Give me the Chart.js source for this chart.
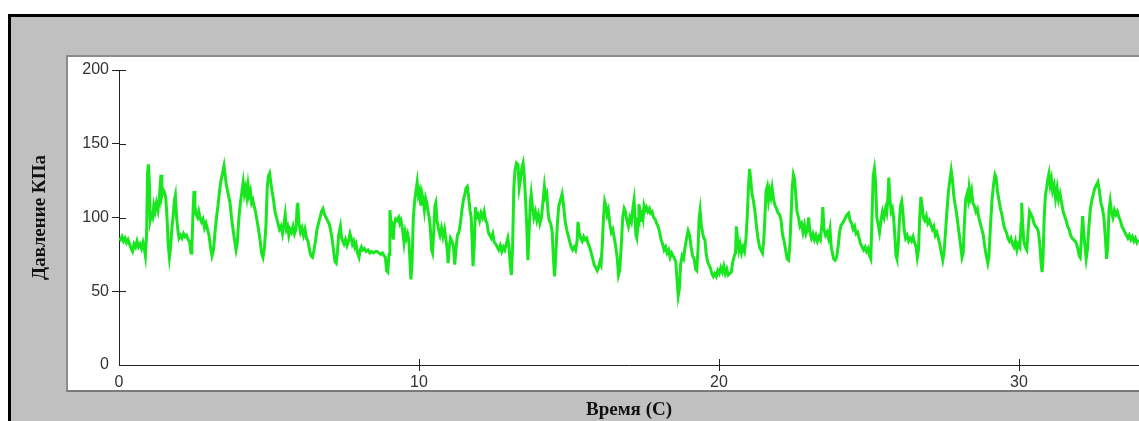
<!DOCTYPE html>
<html>
<head>
<meta charset="utf-8">
<script src="https://cdn.jsdelivr.net/npm/chart.js@4.4.1/dist/chart.umd.min.js"></script>
<style>
  html, body { margin: 0; padding: 0; background: #ffffff; width: 1139px; height: 421px; overflow: hidden; }
  #frame { position: absolute; left: 8px; top: 14px; width: 1131px; height: 407px; box-sizing: border-box;
           border-left: 3px solid #000; border-top: 3px solid #000; background: #c0c0c0; }
  #panel { position: absolute; left: 66px; top: 55px; width: 1073px; height: 337px; box-sizing: border-box;
           background: #ffffff; border-left: 2px solid #8c8c8c; border-top: 2px solid #8c8c8c; border-bottom: 2px solid #7a7a7a; }
  #chart { position: absolute; left: 0; top: 0; }
</style>
</head>
<body>
<div id="frame"></div>
<div id="panel"></div>
<canvas id="chart" width="1139" height="421"></canvas>
<script>
// ---- data (time in s, pressure in kPa) ----
const seg1T = [0.00,0.05,0.10,0.15,0.20,0.25,0.30,0.35,0.40,0.45,
0.50,0.55,0.60,0.65,0.70,0.75,0.80,0.85,0.88,0.92,
0.95,0.98,1.01,1.04,1.08,1.12,1.16,1.20,1.25,1.30,
1.34,1.38,1.40,1.43,1.47,1.52,1.56,1.60,1.64,1.68,
1.72,1.76,1.80,1.85,1.88,1.92,1.96,2.00,2.05,2.10,
2.15,2.20,2.25,2.30,2.35,2.40,2.43,2.47,2.50,2.53,
2.57,2.62,2.66,2.70,2.75,2.80,2.85,2.90,2.95,3.00,
3.05,3.10,3.15,3.20,3.25,3.30,3.35,3.40,3.45,3.50,
3.54,3.58,3.62,3.66,3.70,3.75,3.80,3.85,3.90,3.94,
3.98,4.02,4.06,4.10,4.14,4.18,4.22,4.26,4.30,4.34,
4.38,4.42,4.46,4.50,4.55,4.60,4.65,4.70,4.75,4.80,
4.85,4.90,4.94,4.98,5.02,5.06,5.10,5.15,5.20,5.25,
5.30,5.35,5.40,5.45,5.50,5.54,5.58,5.62,5.66,5.70,
5.75,5.80,5.85,5.90,5.94,5.96,6.00,6.05,6.10,6.15,
6.20,6.25,6.30,6.35,6.40,6.45,6.50,6.55,6.60,6.65,
6.70,6.75,6.80,6.85,6.90,6.95,7.00,7.05,7.10,7.15,
7.20,7.24,7.28,7.32,7.38,7.42,7.46,7.50,7.55,7.60,
7.65,7.70,7.74,7.78,7.82,7.86,7.90,7.95,8.00,8.04,
8.08,8.12,8.18,8.24,8.30,8.36,8.42,8.48,8.55];
const seg1P = [86,85,87,84,86,83,85,82,79,77,
82,80,84,80,82,79,83,78,74,88,
130,136,125,98,102,100,108,104,110,105,
112,124,129,115,119,117,113,100,82,73,
80,92,100,112,115,100,92,86,88,86,
89,87,88,85,84,76,80,105,118,108,
102,100,104,100,97,99,93,96,92,88,
80,74,78,90,100,108,118,125,130,135,
128,122,118,114,110,100,92,85,78,82,
95,105,112,118,124,116,120,114,122,115,
118,110,112,108,104,98,92,85,76,73,
80,95,120,128,130,124,118,112,104,100,
96,92,94,89,96,102,92,94,88,92,
90,94,89,92,108,110,96,90,93,88,
92,86,84,78,74,73,78,84,92,96,
100,104,106,102,100,98,96,92,86,78,
70,69,76,88,94,86,84,82,85,81,
84,89,86,82,84,80,82,76,73,78,
80,78,79,77,78,76,77,76,77];

const seg2T = [8.60,8.66,8.72,8.78,8.84,8.88,8.92,8.96,9.00,9.03,
9.06,9.10,9.14,9.18,9.22,9.27,9.32,9.36,9.40,9.45,
9.50,9.54,9.58,9.62,9.66,9.70,9.73,9.77,9.81,9.86,
9.90,9.94,9.98,10.02,10.06,10.10,10.14,10.18,10.22,10.26,
10.30,10.34,10.38,10.42,10.45,10.49,10.53,10.56,10.60,10.65,
10.70,10.75,10.80,10.85,10.90,10.94,10.97,11.01,11.05,11.10,
11.15,11.19,11.23,11.28,11.33,11.38,11.43,11.48,11.53,11.57,
11.61,11.65,11.70,11.74,11.77,11.80,11.84,11.88,11.92,11.97,
12.02,12.07,12.12,12.17,12.22,12.27,12.31,12.36,12.41,12.46,
12.51,12.56,12.61,12.66,12.71,12.76,12.81,12.86,12.91,12.96,
13.00,13.04,13.08,13.12,13.16,13.20,13.25,13.30,13.34,13.38,
13.43,13.47,13.51,13.55,13.59,13.63,13.67,13.71,13.74,13.78,
13.83,13.88,13.93,13.98,14.03,14.08,14.13,14.18,14.22,14.26,
14.30,14.34,14.39,14.44,14.48,14.52,14.56,14.61,14.66,14.72,
14.77,14.82,14.87,14.92,14.97,15.02,15.07,15.12,15.17,15.22,
15.27,15.30,15.34,15.39,15.44,15.49,15.54,15.59,15.64,15.69,
15.74,15.79,15.84,15.89,15.94,15.98,16.03,16.07,16.11,16.15,
16.19,16.23,16.27,16.31,16.36,16.41,16.46,16.51,16.56,16.61,
16.65,16.69,16.74,16.79,16.84,16.88,16.93,16.98,17.03,17.08];
const seg2P = [77,76,75,76,74,73,64,63,75,105,
98,96,85,96,99,98,100,96,98,92,
83,90,86,89,85,70,58,70,100,112,
118,124,115,118,108,116,112,105,113,110,
104,100,92,78,76,90,108,110,98,92,
88,93,87,92,85,78,69,80,86,84,
80,68,78,88,90,96,105,112,116,120,
121,115,105,100,85,67,80,107,100,102,
98,103,100,104,98,96,90,88,86,89,
83,82,80,78,81,77,80,78,82,86,
80,68,61,80,120,132,137,136,120,125,
134,137,128,113,95,71,90,110,116,108,
100,104,98,102,96,100,110,121,114,116,
104,98,96,90,72,60,75,95,108,112,
116,108,98,92,88,84,80,78,80,78,
84,97,90,86,84,87,85,86,82,80,
76,72,68,66,64,66,70,68,82,100,
111,108,102,105,96,90,92,86,80,72,
61,64,80,100,106,104,98,94,100,97];

const seg3T = [17.14,17.17,17.20,17.23,17.26,17.30,17.33,17.37,17.40,17.43,
17.47,17.50,17.54,17.58,17.63,17.68,17.72,17.77,17.82,17.87,
17.92,17.97,18.02,18.07,18.12,18.17,18.22,18.27,18.32,18.37,
18.42,18.47,18.52,18.56,18.60,18.64,18.68,18.72,18.77,18.82,
18.87,18.92,18.97,19.02,19.07,19.12,19.17,19.22,19.26,19.30,
19.34,19.37,19.41,19.45,19.49,19.53,19.57,19.62,19.66,19.71,
19.76,19.81,19.86,19.91,19.96,20.01,20.06,20.11,20.16,20.21,
20.26,20.31,20.36,20.41,20.46,20.51,20.55,20.58,20.62,20.66,
20.70,20.75,20.80,20.85,20.90,20.94,20.98,21.02,21.06,21.10,
21.14,21.18,21.22,21.26,21.30,21.35,21.40,21.45,21.49,21.53,
21.57,21.61,21.65,21.69,21.73,21.77,21.82,21.87,21.92,21.97,
22.02,22.07,22.12,22.17,22.22,22.27,22.32,22.36,22.40,22.44,
22.48,22.52,22.56,22.60,22.65,22.70,22.75,22.80,22.85,22.90,
22.95,22.99,23.03,23.08,23.13,23.18,23.23,23.28,23.33,23.38,
23.43,23.46,23.50,23.55,23.60,23.65,23.70,23.74,23.78,23.82,
23.87,23.92,23.97,24.02,24.07,24.12,24.17,24.22,24.27,24.32,
24.37,24.42,24.47,24.52,24.57,24.62,24.67,24.72,24.77,24.82,
24.87,24.92,24.97,25.02,25.06,25.10,25.14,25.18,25.22,25.26,
25.30,25.35,25.40,25.45,25.50,25.55,25.59,25.62,25.66];
const seg3P = [108,112,100,88,86,95,109,104,98,105,
100,108,105,107,104,106,103,104,100,99,
96,94,90,85,82,78,80,76,78,73,
76,74,72,70,58,47,52,68,74,72,
80,86,91,88,80,74,72,65,64,78,
100,105,95,90,86,85,76,70,68,66,
62,60,62,60,64,62,66,63,67,62,
65,61,62,63,70,74,76,94,85,78,
82,76,80,77,86,100,120,133,125,116,
112,107,100,92,86,80,78,76,84,100,
118,121,112,118,114,120,112,108,106,103,
102,98,88,84,78,72,71,80,100,120,
129,126,115,104,100,94,96,90,95,89,
92,100,90,86,89,85,88,84,87,85,
96,107,92,88,90,86,92,80,76,72,
71,73,80,90,95,96,98,100,102,103,
98,96,92,94,89,90,86,82,80,78,
80,77,79,74,72,100,128,133,124,100,
96,90,98,104,100,106,103,110,127];

const seg4T = [25.70,25.74,25.78,25.82,25.86,25.90,25.93,25.97,26.01,26.05,
26.09,26.13,26.17,26.22,26.27,26.32,26.37,26.42,26.47,26.52,
26.57,26.61,26.65,26.69,26.73,26.77,26.81,26.86,26.91,26.96,
27.01,27.06,27.11,27.16,27.21,27.26,27.31,27.36,27.41,27.46,
27.50,27.55,27.60,27.65,27.70,27.74,27.78,27.82,27.86,27.91,
27.96,28.01,28.06,28.10,28.14,28.18,28.22,28.27,28.31,28.34,
28.38,28.42,28.46,28.51,28.56,28.61,28.66,28.71,28.76,28.81,
28.86,28.91,28.96,29.00,29.05,29.10,29.15,29.20,29.24,29.28,
29.33,29.38,29.43,29.48,29.53,29.58,29.63,29.68,29.73,29.78,
29.83,29.88,29.93,29.98,30.03,30.07,30.09,30.12,30.16,30.21,
30.26,30.30,30.35,30.40,30.45,30.50,30.55,30.60,30.65,30.70,
30.74,30.77,30.80,30.84,30.88,30.92,30.96,31.00,31.04,31.08,
31.12,31.17,31.22,31.27,31.32,31.37,31.42,31.47,31.52,31.57,
31.62,31.67,31.72,31.77,31.82,31.87,31.92,31.97,32.01,32.04,
32.08,32.12,32.16,32.20,32.24,32.28,32.33,32.38,32.43,32.48,
32.53,32.58,32.63,32.68,32.73,32.78,32.83,32.88,32.92,32.96,
33.00,33.04,33.08,33.13,33.18,33.23,33.28,33.33,33.38,33.43,
33.48,33.53,33.58,33.63,33.68,33.73,33.78,33.83,33.88,33.93,
33.98];
const seg4P = [112,104,106,100,88,74,72,80,96,108,
111,104,92,86,88,84,86,84,87,83,
80,73,78,100,114,108,100,98,101,96,
98,95,92,94,88,90,86,82,76,71,
76,90,105,118,126,132,126,116,110,104,
96,88,80,73,76,96,112,116,112,120,
114,118,110,108,104,106,100,96,92,88,
80,74,69,74,95,112,122,129,127,118,
112,106,102,96,92,90,86,84,86,82,
80,84,78,82,80,96,110,96,84,80,
78,90,104,102,100,96,94,93,90,80,
68,63,72,100,115,120,126,130,122,126,
118,122,113,120,112,116,110,104,101,98,
94,92,88,86,85,84,82,78,74,73,
86,101,90,80,72,78,94,106,112,116,
120,122,124,118,110,106,100,86,72,80,
105,111,104,100,105,102,104,100,98,94,
92,90,88,86,88,85,87,84,86,83,
85];

const xTickValues = [0, 10, 20, 30];
const yTickValues = [0, 50, 100, 150, 200];
const xTitle = 'Время (С)';
const yTitle = 'Давление КПа';

// ---- build dataset ----
const timeSec = seg1T.concat(seg2T, seg3T, seg4T);
const pressure = seg1P.concat(seg2P, seg3P, seg4P);
const n = Math.min(timeSec.length, pressure.length);
const points = [];
for (let i = 0; i < n; i++) points.push({ x: timeSec[i], y: pressure[i] });

const tickFont = { family: '"Liberation Sans", Arial, sans-serif', size: 16 };
const titleFont = { family: '"Liberation Serif", "Times New Roman", serif', size: 19, weight: 'bold' };
const axisColor = '#222222';

// small plugin: the reference ticks cross the axis line, draw inner halves
const innerTicks = {
  id: 'innerTicks',
  afterDraw(chart) {
    const { ctx, scales: { x, y } } = chart;
    ctx.save();
    ctx.strokeStyle = axisColor;
    ctx.lineWidth = 1;
    ctx.beginPath();
    x.ticks.forEach(t => {
      if (t.value === 0) return;
      const px = Math.round(x.getPixelForValue(t.value)) + 0.5;
      ctx.moveTo(px, y.bottom); ctx.lineTo(px, y.bottom - 6);
    });
    y.ticks.forEach(t => {
      if (t.value === 0) return;
      const py = Math.round(y.getPixelForValue(t.value)) + 0.5;
      ctx.moveTo(x.left, py); ctx.lineTo(x.left + 7, py);
    });
    ctx.stroke();
    ctx.restore();
  }
};

new Chart(document.getElementById('chart'), {
  type: 'line',
  data: {
    datasets: [{
      data: points,
      borderColor: '#18e61e',
      borderWidth: 3,
      pointRadius: 0,
      tension: 0,
      fill: false
    }]
  },
  options: {
    responsive: false,
    animation: false,
    devicePixelRatio: 1,
    layout: { padding: { top: 70, right: 0, bottom: 0, left: 0 } },
    plugins: { legend: { display: false }, tooltip: { enabled: false } },
    scales: {
      x: {
        type: 'linear',
        min: 0,
        max: 34,
        afterFit: s => { s.height = 56; },
        afterBuildTicks: s => { s.ticks = xTickValues.map(v => ({ value: v })); },
        ticks: { stepSize: 10, includeBounds: false, autoSkip: false, maxRotation: 0, padding: 2, font: tickFont, color: '#333333' },
        grid: { display: true, drawOnChartArea: false, drawTicks: true, tickLength: 6,
                color: c => (c.tick && c.tick.value === 0) ? 'rgba(0,0,0,0)' : axisColor },
        border: { display: true, color: axisColor, width: 1 },
        title: { display: true, text: xTitle, font: titleFont, color: '#111111', padding: { top: 0, bottom: 0 } }
      },
      y: {
        min: 0,
        max: 200,
        afterFit: s => { s.width = 119; },
        afterBuildTicks: s => { s.ticks = yTickValues.map(v => ({ value: v })); },
        ticks: { stepSize: 50, padding: 3, font: tickFont, color: '#333333' },
        grid: { display: true, drawOnChartArea: false, drawTicks: true, tickLength: 7,
                color: c => (c.tick && c.tick.value === 0) ? 'rgba(0,0,0,0)' : axisColor },
        border: { display: true, color: axisColor, width: 1 },
        title: { display: true, text: yTitle, font: titleFont, color: '#111111', padding: { top: 29, bottom: 0 } }
      }
    }
  },
  plugins: [innerTicks]
});
</script>
</body>
</html>
